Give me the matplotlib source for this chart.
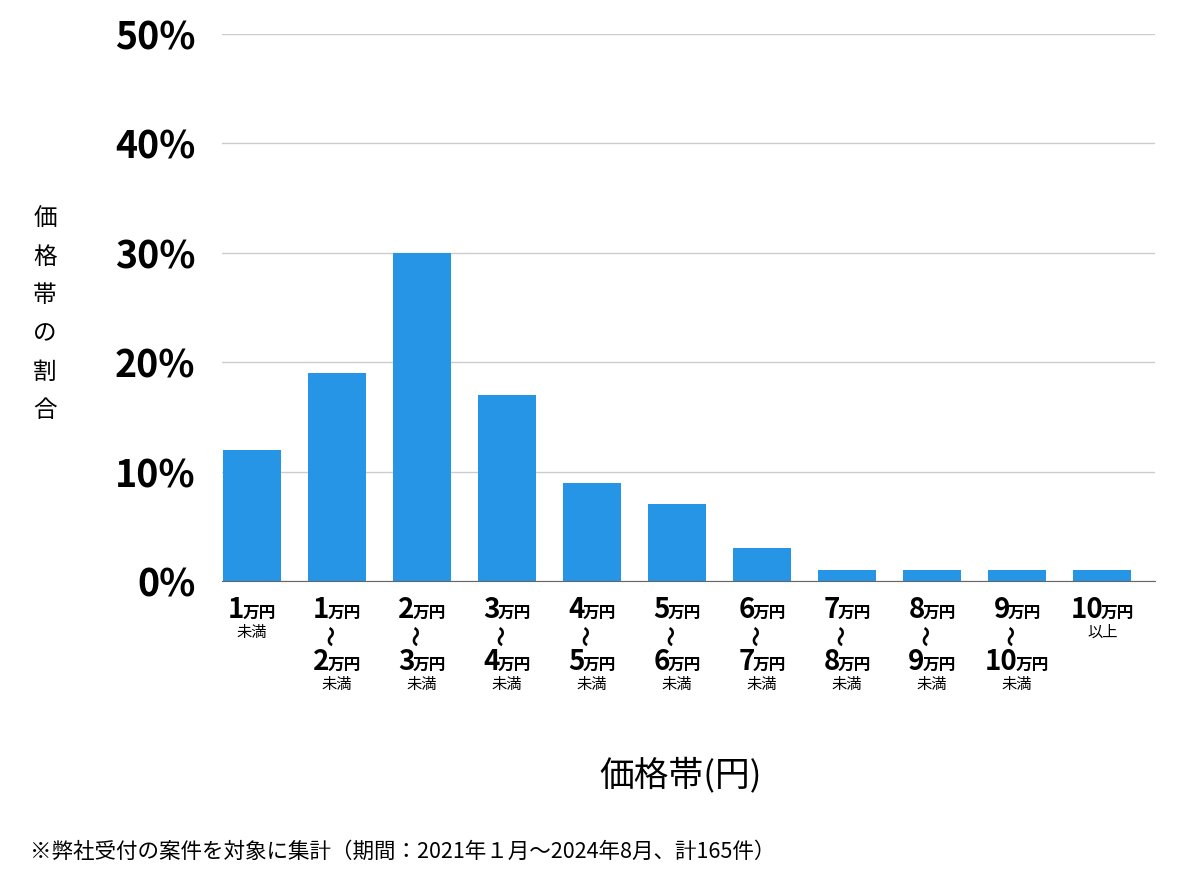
import matplotlib
matplotlib.use('Agg')
import matplotlib.pyplot as plt

plt.rcParams['font.family'] = ['Noto Sans CJK JP', 'DejaVu Sans']

# data
lower = ['1', '1', '2', '3', '4', '5', '6', '7', '8', '9', '10']
upper = [None, '2', '3', '4', '5', '6', '7', '8', '9', '10', None]
last_word = ['未満'] * 10 + ['以上']
shares = [12, 19, 30, 17, 9, 7, 3, 1, 1, 1, 1]
yticks = [0, 10, 20, 30, 40, 50]
ytick_labels = ['0%', '10%', '20%', '30%', '40%', '50%']

bar_color = '#2695E6'

fig = plt.figure(figsize=(12, 8.74), dpi=100)
ax = fig.add_axes([0.185, 0.3352, 0.7775, 0.6258])

x = list(range(len(shares)))
ax.bar(x, shares, width=0.68, color=bar_color, zorder=3)

ax.set_xlim(-0.35, len(shares) - 0.38)
ax.set_ylim(0, 50)
ax.set_yticks(yticks)
ax.set_yticklabels(ytick_labels, fontsize=27, fontweight='bold')
ax.tick_params(axis='y', length=0, pad=19)
ax.set_xticks([])
ax.grid(axis='y', color='#cccccc', linewidth=1, zorder=0)
for s in ['top', 'right', 'left']:
    ax.spines[s].set_visible(False)
ax.spines['bottom'].set_color('#666666')
ax.spines['bottom'].set_zorder(4)

tr = ax.get_xaxis_transform()
px = 0.72  # pixels -> points at dpi 100

pairs = []

def add_price(i, text, base_px):
    num = ax.annotate(text, xy=(i, 0), xycoords=tr, xytext=(0, -base_px * px),
                      textcoords='offset points', ha='left', va='baseline',
                      fontsize=20, fontweight='bold', annotation_clip=False)
    unit = ax.annotate('万円', xy=(i, 0), xycoords=tr, xytext=(0, -base_px * px),
                       textcoords='offset points', ha='left', va='baseline',
                       fontsize=12, fontweight='bold', annotation_clip=False)
    pairs.append((num, unit, base_px))

for i in x:
    add_price(i, lower[i], 37)
    if upper[i] is None:
        ax.annotate(last_word[i], xy=(i, 0), xycoords=tr, xytext=(0, -51 * px),
                    textcoords='offset points', ha='center', va='center',
                    fontsize=11, annotation_clip=False)
    else:
        ax.annotate('〜', xy=(i, 0), xycoords=tr, xytext=(-4 * px, -55 * px),
                    textcoords='offset points', ha='center', va='center',
                    fontsize=15, fontweight='bold', rotation=90,
                    rotation_mode='anchor', annotation_clip=False)
        add_price(i, upper[i], 89)
        ax.annotate(last_word[i], xy=(i, 0), xycoords=tr, xytext=(0, -103 * px),
                    textcoords='offset points', ha='center', va='center',
                    fontsize=11, annotation_clip=False)

# center each number + unit pair under its bar
fig.canvas.draw()
r = fig.canvas.get_renderer()
for num, unit, base_px in pairs:
    w1 = num.get_window_extent(r).width
    w2 = unit.get_window_extent(r).width
    start = -(w1 + w2 - 2) / 2
    num.xyann = (start * px, -base_px * px)
    unit.xyann = ((start + w1 - 2) * px, -base_px * px)

fig.text(0.0375, 0.64, '価\n格\n帯\nの\n割\n合', ha='center', va='center',
         fontsize=17, linespacing=1.85)
fig.text(0.567, 0.113, '価格帯(円)', ha='center', va='center', fontsize=25)
fig.text(0.025, 0.025, '※弊社受付の案件を対象に集計（期間：2021年１月〜2024年8月、計165件）',
         ha='left', va='center', fontsize=15.5)

fig.savefig('out.png', dpi=100)
